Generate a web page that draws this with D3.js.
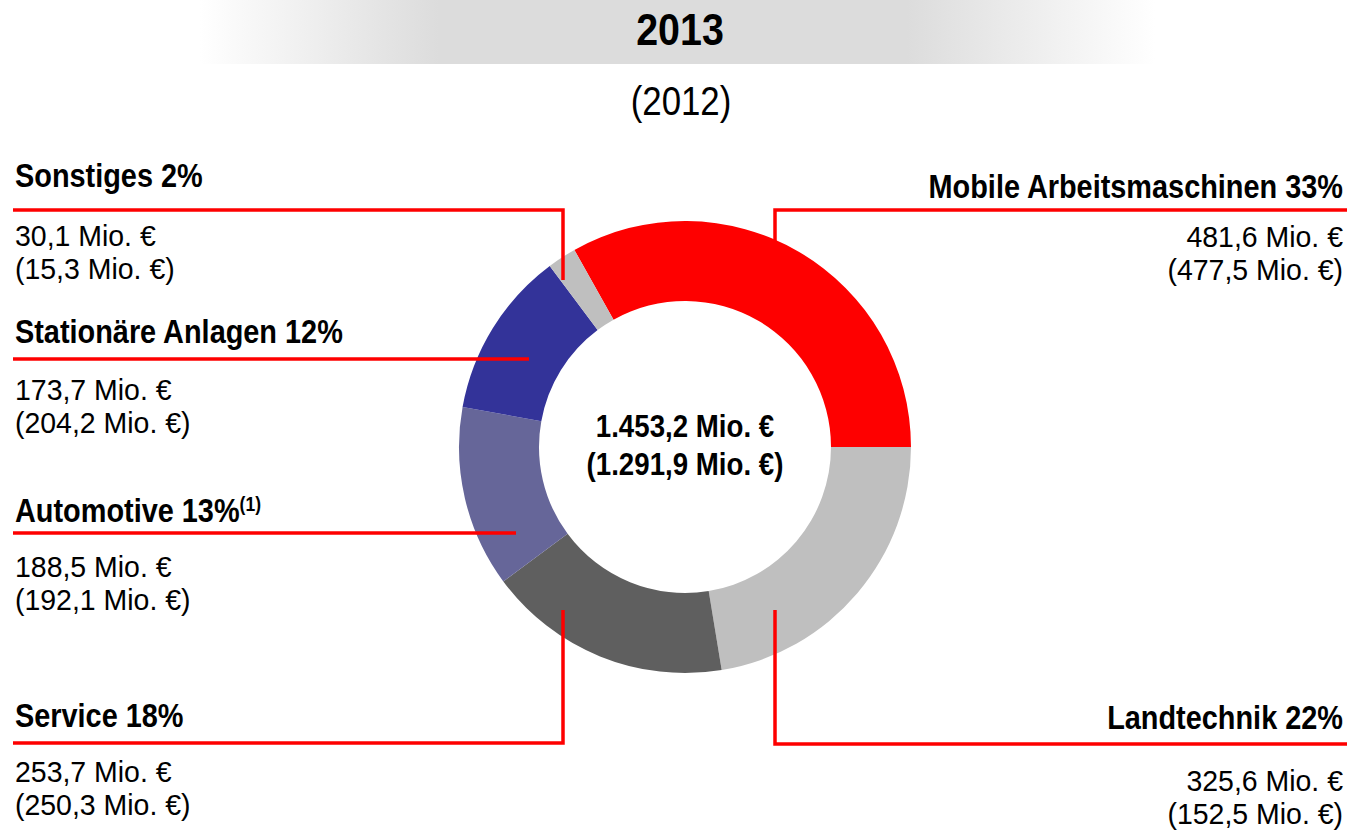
<!DOCTYPE html>
<html>
<head>
<meta charset="utf-8">
<script src="https://cdn.jsdelivr.net/npm/d3@7"></script>
<style>
  html, body { margin: 0; padding: 0; background: #ffffff; }
  svg { display: block; }
  text { font-family: "Liberation Sans", Arial, sans-serif; fill: #000; }
</style>
</head>
<body>
<div id="chart"></div>
<script>
// ---------- data ----------
const categories = ["Mobile Arbeitsmaschinen", "Landtechnik", "Service", "Automotive", "Stationäre Anlagen", "Sonstiges"];
const values2013 = [481.6, 325.6, 253.7, 188.5, 173.7, 30.1];
const values2012 = [477.5, 152.5, 250.3, 192.1, 204.2, 15.3];
const shares = [33, 22, 18, 13, 12, 2];
const footnotes = ["", "", "", "(1)", "", ""];
const sliceColors = ["#fe0000", "#bfbfbf", "#5f5f5f", "#666699", "#333399", "#bfbfbf"];
const total2013 = 1453.2;
const total2012 = 1291.9;
const yearTitle = "2013";
const yearCompare = "(2012)";

// ---------- layout (positions only) ----------
const W = 1350, H = 830;
const cx = 685, cy = 447, rOuter = 226, rInner = 146;
const SX_BOLD = 0.875;      // horizontal condensing of the type
const SX_REG = 0.965;
const leftX = 15, rightX = 1343;
const lineLeft = 13, lineRight = 1347;
const labelLayout = [
  { side: "right", titleY: 198, lineY: 210, v1: 247, v2: 280, vx: 775, vy: 242 },
  { side: "right", titleY: 729, lineY: 744, v1: 791, v2: 824, vx: 775, vy: 610 },
  { side: "left",  titleY: 727, lineY: 743, v1: 782, v2: 815, vx: 563, vy: 610 },
  { side: "left",  titleY: 522, lineY: 533, v1: 577, v2: 610, hx: 516 },
  { side: "left",  titleY: 343, lineY: 359, v1: 400, v2: 433, hx: 529 },
  { side: "left",  titleY: 187, lineY: 210, v1: 246, v2: 279, vx: 563, vy: 280 }
];

const de = d3.formatLocale({ decimal: ",", thousands: ".", grouping: [3], currency: ["", " €"] });
const fmt = de.format(",.1f");
const mio = v => fmt(v) + " Mio. €";

const svg = d3.select("#chart").append("svg").attr("width", W).attr("height", H);

// header band gradient
const defs = svg.append("defs");
const grad = defs.append("linearGradient").attr("id", "band").attr("x1", "0%").attr("x2", "100%");
[[0, "#ffffff"], [0.25, "#dcdcdc"], [0.74, "#dcdcdc"], [1, "#ffffff"]].forEach(([o, c]) =>
  grad.append("stop").attr("offset", o).attr("stop-color", c));
svg.append("rect").attr("x", 200).attr("y", 0).attr("width", 955).attr("height", 64).attr("fill", "url(#band)");

function addText(x, y, str, size, weight, anchor) {
  const sx = weight === "bold" ? SX_BOLD : SX_REG;
  return svg.append("text")
    .attr("transform", `translate(${x},${y}) scale(${sx},1)`)
    .attr("text-anchor", anchor || "start")
    .attr("font-size", size)
    .attr("font-weight", weight || "normal")
    .text(str);
}

addText(680, 45, yearTitle, 45, "bold", "middle");
svg.append("text")
  .attr("transform", `translate(681,115) scale(0.87,1)`)
  .attr("text-anchor", "middle").attr("font-size", 40).text(yearCompare);

// donut
const total = d3.sum(values2013);
const start = Math.PI / 2 - 2 * Math.PI * values2013[0] / total;
const pie = d3.pie().sort(null).value(d => d).startAngle(start).endAngle(start + 2 * Math.PI);
const arc = d3.arc().innerRadius(rInner).outerRadius(rOuter);
const arcs = pie(values2013);
svg.append("g").attr("transform", `translate(${cx},${cy})`)
  .selectAll("path").data(arcs).join("path")
  .attr("d", arc)
  .attr("fill", (d, i) => sliceColors[i]);

// center totals
svg.append("text").attr("transform", `translate(${cx},437) scale(0.865,1)`)
  .attr("text-anchor", "middle").attr("font-size", 32).attr("font-weight", "bold").text(mio(total2013));
svg.append("text").attr("transform", `translate(${cx},475) scale(0.865,1)`)
  .attr("text-anchor", "middle").attr("font-size", 32).attr("font-weight", "bold").text("(" + mio(total2012) + ")");

// labels with leader lines
categories.forEach((name, i) => {
  const L = labelLayout[i];
  const left = L.side === "left";
  const tx = left ? leftX : rightX;
  const anchor = left ? "start" : "end";
  const t = addText(tx, L.titleY, "", 33, "bold", anchor);
  t.append("tspan").text(name + " " + shares[i] + "%");
  if (footnotes[i]) {
    t.append("tspan").attr("font-size", 20).attr("dy", -11).text(footnotes[i]);
  }
  addText(tx, L.v1, mio(values2013[i]), 29.5, "normal", anchor);
  addText(tx, L.v2, "(" + mio(values2012[i]) + ")", 29.5, "normal", anchor);

  const p = d3.path();
  const x0 = left ? lineLeft : lineRight;
  p.moveTo(x0, L.lineY);
  if (L.vx !== undefined) {
    p.lineTo(L.vx, L.lineY);
    p.lineTo(L.vx, L.vy);
  } else {
    p.lineTo(L.hx, L.lineY);
  }
  svg.append("path").attr("d", p.toString())
    .attr("fill", "none").attr("stroke", "#fe0000").attr("stroke-width", 3.5)
    .attr("stroke-linejoin", "miter");
});
</script>
</body>
</html>
